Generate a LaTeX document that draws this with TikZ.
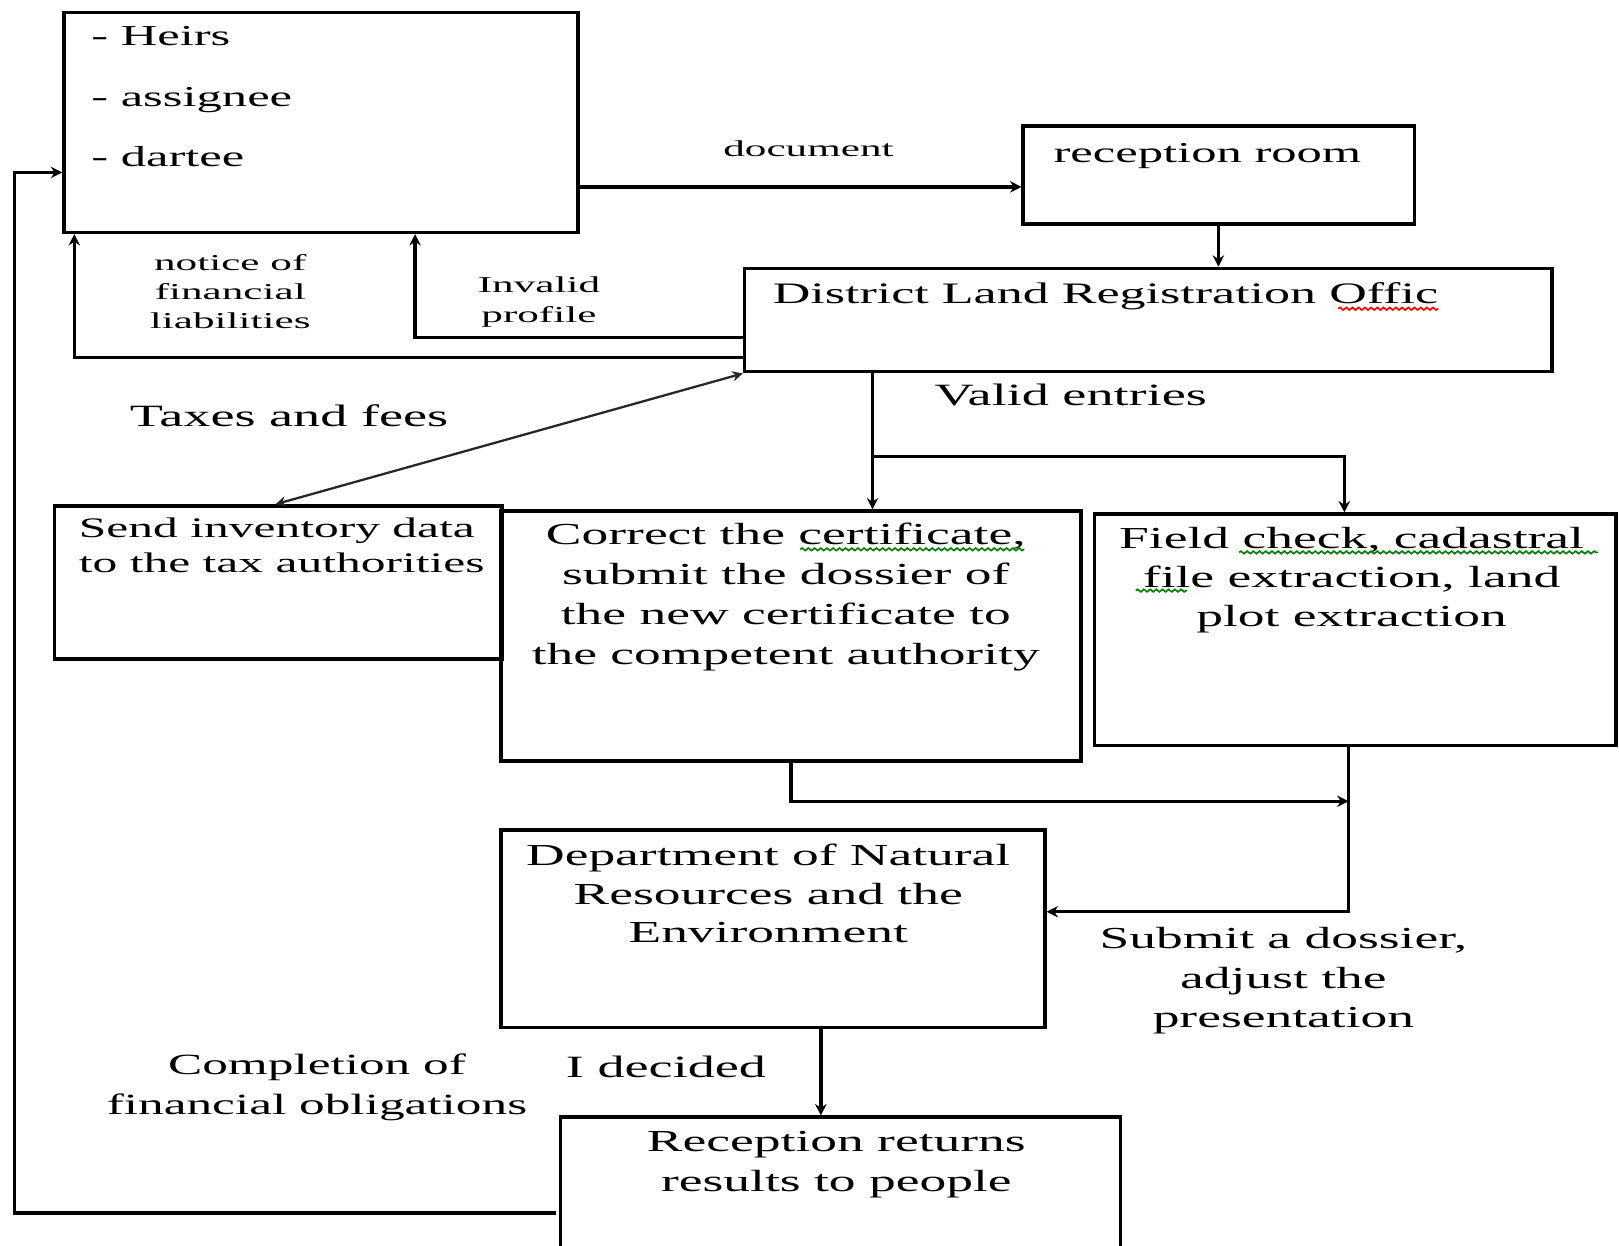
\documentclass[tikz,border=0pt]{standalone}
\usepackage{fontspec}
\setmainfont{Liberation Serif}[FakeStretch=1.75]
\newfontfamily\smallf{Liberation Serif}[FakeStretch=1.9]
\usetikzlibrary{arrows.meta,fit,decorations.pathmorphing}
\begin{document}
\begin{tikzpicture}[x=0.5pt,y=-0.5pt,
  box/.style={draw, line width=1.7pt, inner sep=0pt},
  conn/.style={line width=1.7pt},
  arr/.style={conn, -{Stealth[length=5.5pt,width=5.5pt]}},
  darr/.style={line width=1.1pt, black!85, {Stealth[length=5pt,width=5pt]}-{Stealth[length=5pt,width=5pt]}},
  txt/.style={inner sep=0pt, font=\fontsize{14.8}{19.4}\selectfont},
  bigtxt/.style={inner sep=0pt, font=\fontsize{15}{19}\selectfont},
  smalltxt/.style={inner sep=0pt, font=\smallf\fontsize{11}{14}\selectfont},
  spellred/.style={red, line width=0.8pt, decorate, decoration={snake, amplitude=0.6pt, segment length=3pt}},
  spellgreen/.style={green!50!black, line width=0.8pt, decorate, decoration={snake, amplitude=0.6pt, segment length=3pt}}]
\useasboundingbox (0,0) rectangle (1568,1206);
\fill[white] (0,0) rectangle (1568,1206);

% boxes
\node[box, fit={(62,12) (560,225)}] (heirs) {};
\node[box, fit={(991,122) (1370,217)}] (recep) {};
\node[box, fit={(721,260) (1503,360)}] (dlro) {};
\node[box, fit={(53,490) (486,638)}] (send) {};
\node[box, fit={(485,495) (1047,737)}] (corr) {};
\node[box, fit={(1060,498) (1565,722)}] (field) {};
\node[box, fit={(485,804) (1012,995)}] (dept) {};
\node[box, fit={(543,1082) (1085,1225)}] (ret) {};

% box texts
\node[txt, anchor=base west, font=\fontsize{14}{19}\selectfont] (h1) at (88,44) {- Heirs};
\node[txt, anchor=base west, font=\fontsize{14}{19}\selectfont] (h2) at (88,103) {- assignee};
\node[txt, anchor=base west, font=\fontsize{14}{19}\selectfont] (h3) at (88,161) {- dartee};
\node[txt, anchor=base west, font=\fontsize{14}{19}\selectfont] (recepT) at (1020,157) {reception room};
\node[txt, anchor=base west, font=\fontsize{14.4}{19}\selectfont] (dlroT) at (748,294) {District Land Registration Offic};
\node[txt, anchor=north west, align=left, font=\fontsize{13.7}{17}\selectfont] (sendT) at (76,501) {Send inventory data\\to the tax authorities};
\node[txt, anchor=north, align=center] (corrT) at (761,506) {Correct the certificate,\\submit the dossier of\\the new certificate to\\the competent authority};
\node[txt, anchor=north, align=center, font=\fontsize{14.8}{19}\selectfont] (fieldT) at (1309,510) {Field check, cadastral\\file extraction, land\\plot extraction};
\node[txt, anchor=north, align=center, font=\fontsize{14.8}{18.75}\selectfont] (deptT) at (744,817) {Department of Natural\\Resources and the\\Environment};
\node[txt, anchor=north, align=center] (retT) at (810,1095) {Reception returns\\results to people};

% spell-check marks
\draw[spellred] (1296,299) -- (1393,299);
\draw[spellgreen] (775,532) -- (992,532);
\draw[spellgreen] (1200,535) -- (1548,535);
\draw[spellgreen] (1100,572) -- (1150,572);

% connector labels
\node[smalltxt, anchor=base] (docL) at (783,152) {document};
\node[smalltxt, anchor=north, align=center] (noticeL) at (223,246) {notice of\\financial\\liabilities};
\node[smalltxt, anchor=north, align=center, font=\smallf\fontsize{11}{14.5}\selectfont] (invL) at (522,268) {Invalid\\profile};
\node[bigtxt, anchor=base] (taxL) at (280,413) {Taxes and fees};
\node[bigtxt, anchor=base] (validL) at (1037,393) {Valid entries};
\node[txt, anchor=north, align=center, font=\fontsize{14.8}{19}\selectfont] (subL) at (1243,898) {Submit a dossier,\\adjust the\\presentation};
\node[bigtxt, anchor=base] (decL) at (645,1044) {I decided};
\node[txt, anchor=north, align=center, font=\fontsize{14.2}{19.5}\selectfont] (compL) at (307,1020) {Completion of\\financial obligations};

% helper coordinates
\coordinate (br) at (845,442);
\coordinate (mg) at (1306,776);
\coordinate (lc) at (14,1175);

% connectors
\draw[arr] (heirs.east |- 0,181) -- (recep.west |- 0,181);
\draw[arr] (recep.south -| 1180,0) -- (dlro.north -| 1180,0);
\draw[arr] (dlro.west |- 0,327) -| (heirs.south -| 402,0);
\draw[arr] (dlro.west |- 0,346) -| (heirs.south -| 72,0);
\draw[darr] (dlro.south west) -- (send.north -| 267,0);
\draw[arr] (dlro.south -| 845,0) -- (corr.north -| 845,0);
\draw[arr] (br) -| (field.north -| 1302,0);
\draw[arr] (corr.south -| 766,0) |- (mg);
\draw[arr] (field.south -| 1306,0) |- (dept.east |- 0,883);
\draw[arr] (dept.south -| 795,0) -- (ret.north -| 795,0);
\draw[arr] (538,1175) -- (lc) |- (heirs.west |- 0,167);
\end{tikzpicture}
\end{document}
